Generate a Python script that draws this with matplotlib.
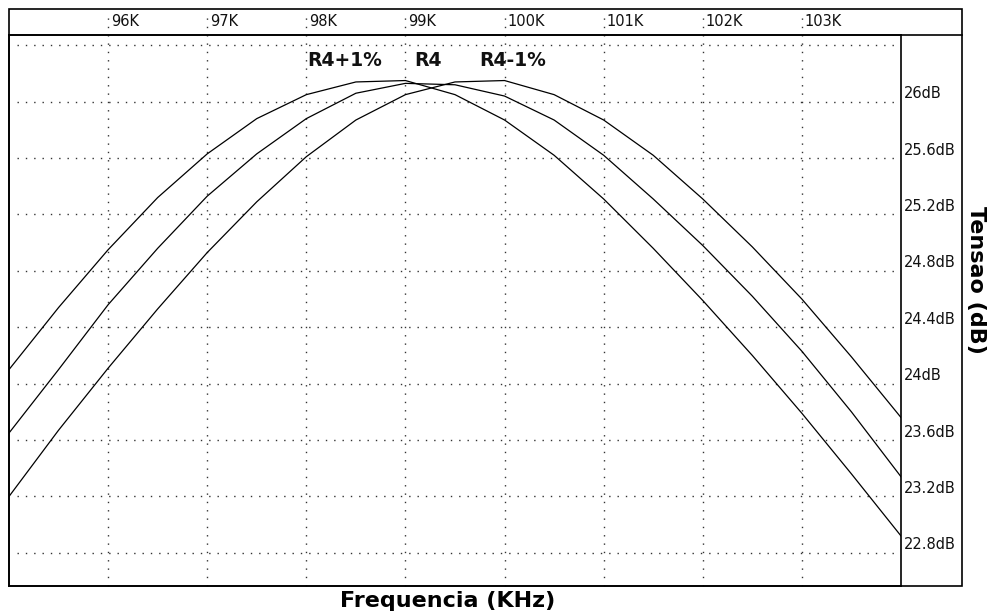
import matplotlib
matplotlib.use('Agg')
import matplotlib.pyplot as plt
import matplotlib.transforms as mtransforms
from matplotlib.patches import Rectangle
from matplotlib.lines import Line2D

# frequency (kHz) and level (dB)
freq = [95.0, 95.5, 96.0, 96.5, 97.0, 97.5, 98.0, 98.5, 99.0, 99.5,
        100.0, 100.5, 101.0, 101.5, 102.0, 102.5, 103.0, 103.5, 104.0]
r4_plus = [24.10, 24.54, 24.95, 25.32, 25.63, 25.88, 26.05, 26.14, 26.15, 26.05,
           25.87, 25.62, 25.31, 24.96, 24.59, 24.20, 23.79, 23.36, 22.92]
r4 = [23.65, 24.10, 24.56, 24.96, 25.33, 25.63, 25.88, 26.06, 26.13, 26.12,
      26.04, 25.87, 25.62, 25.31, 24.98, 24.62, 24.23, 23.80, 23.34]
r4_minus = [23.20, 23.67, 24.11, 24.53, 24.93, 25.29, 25.61, 25.87, 26.05, 26.14,
            26.15, 26.05, 25.87, 25.62, 25.31, 24.97, 24.60, 24.19, 23.76]

x_ticks = [96, 97, 98, 99, 100, 101, 102, 103]
x_labels = ['96K', '97K', '98K', '99K', '100K', '101K', '102K', '103K']
y_ticks = [22.8, 23.2, 23.6, 24.0, 24.4, 24.8, 25.2, 25.6, 26.0]
y_labels = ['22.8dB', '23.2dB', '23.6dB', '24dB', '24.4dB', '24.8dB', '25.2dB', '25.6dB', '26dB']
y_grid = y_ticks + [26.4]

curve_names = ['R4+1%', 'R4', 'R4-1%']
name_x = [98.39, 99.23, 100.08]

W, H = 990, 614
fig = plt.figure(figsize=(9.9, 6.14), dpi=100)
fig.patch.set_facecolor('white')

def fx(px):
    return px / W

def fy(py):
    return 1 - py / H

ax = fig.add_axes([fx(9), fy(586), (901 - 9) / W, (586 - 35) / H])
ax.set_xlim(95, 104)
ax.set_ylim(22.565, 26.473)
ax.set_xticks([])
ax.set_yticks([])
for s in ax.spines.values():
    s.set_linewidth(1.2)
    s.set_color('black')

dot = (0, (1, 5))
for x in x_ticks:
    ax.axvline(x, ymin=0, ymax=(586 - 12) / 551, color='#333333', lw=1.0,
               linestyle=dot, clip_on=False)
for y in y_grid:
    ax.axhline(y, xmin=0.009, xmax=0.9955, color='#333333', lw=1.0, linestyle=dot)

ax.plot(freq, r4_plus, color='black', lw=0.9)
ax.plot(freq, r4, color='black', lw=0.9)
ax.plot(freq, r4_minus, color='black', lw=0.9)

for name, x in zip(curve_names, name_x):
    ax.text(x, 26.29, name, ha='center', va='center', fontsize=13.5,
            fontweight='bold', color='#111111')

# top tick labels in the header strip
tr_top = mtransforms.blended_transform_factory(ax.transData, fig.transFigure)
for x, lab in zip(x_ticks, x_labels):
    ax.text(x + 0.03, fy(22), lab, transform=tr_top, ha='left', va='center',
            fontsize=10.5, color='#111111')

# right value labels
tr_right = mtransforms.blended_transform_factory(ax.transAxes, ax.transData)
tr_right = mtransforms.offset_copy(tr_right, fig=fig, x=0, y=8, units='dots')
for y, lab in zip(y_ticks, y_labels):
    ax.text(1.003, y, lab, transform=tr_right, ha='left', va='center',
            fontsize=10.5, color='#111111')

# frame: outer box, header line, right strip
fig.patches.append(Rectangle((fx(9), fy(586)), (962 - 9) / W, (586 - 9) / H,
                             transform=fig.transFigure, fill=False,
                             edgecolor='black', lw=1.2))
fig.lines.append(Line2D([fx(9), fx(962)], [fy(35), fy(35)],
                        transform=fig.transFigure, color='black', lw=1.2))

fig.text(fx(448), fy(601), 'Frequencia (KHz)', ha='center', va='center',
         fontsize=16, fontweight='bold')
fig.text(fx(976), fy(280), 'Tensao (dB)', ha='center', va='center',
         fontsize=16, fontweight='bold', rotation=-90)

fig.savefig('out.png', dpi=100, facecolor='white')
